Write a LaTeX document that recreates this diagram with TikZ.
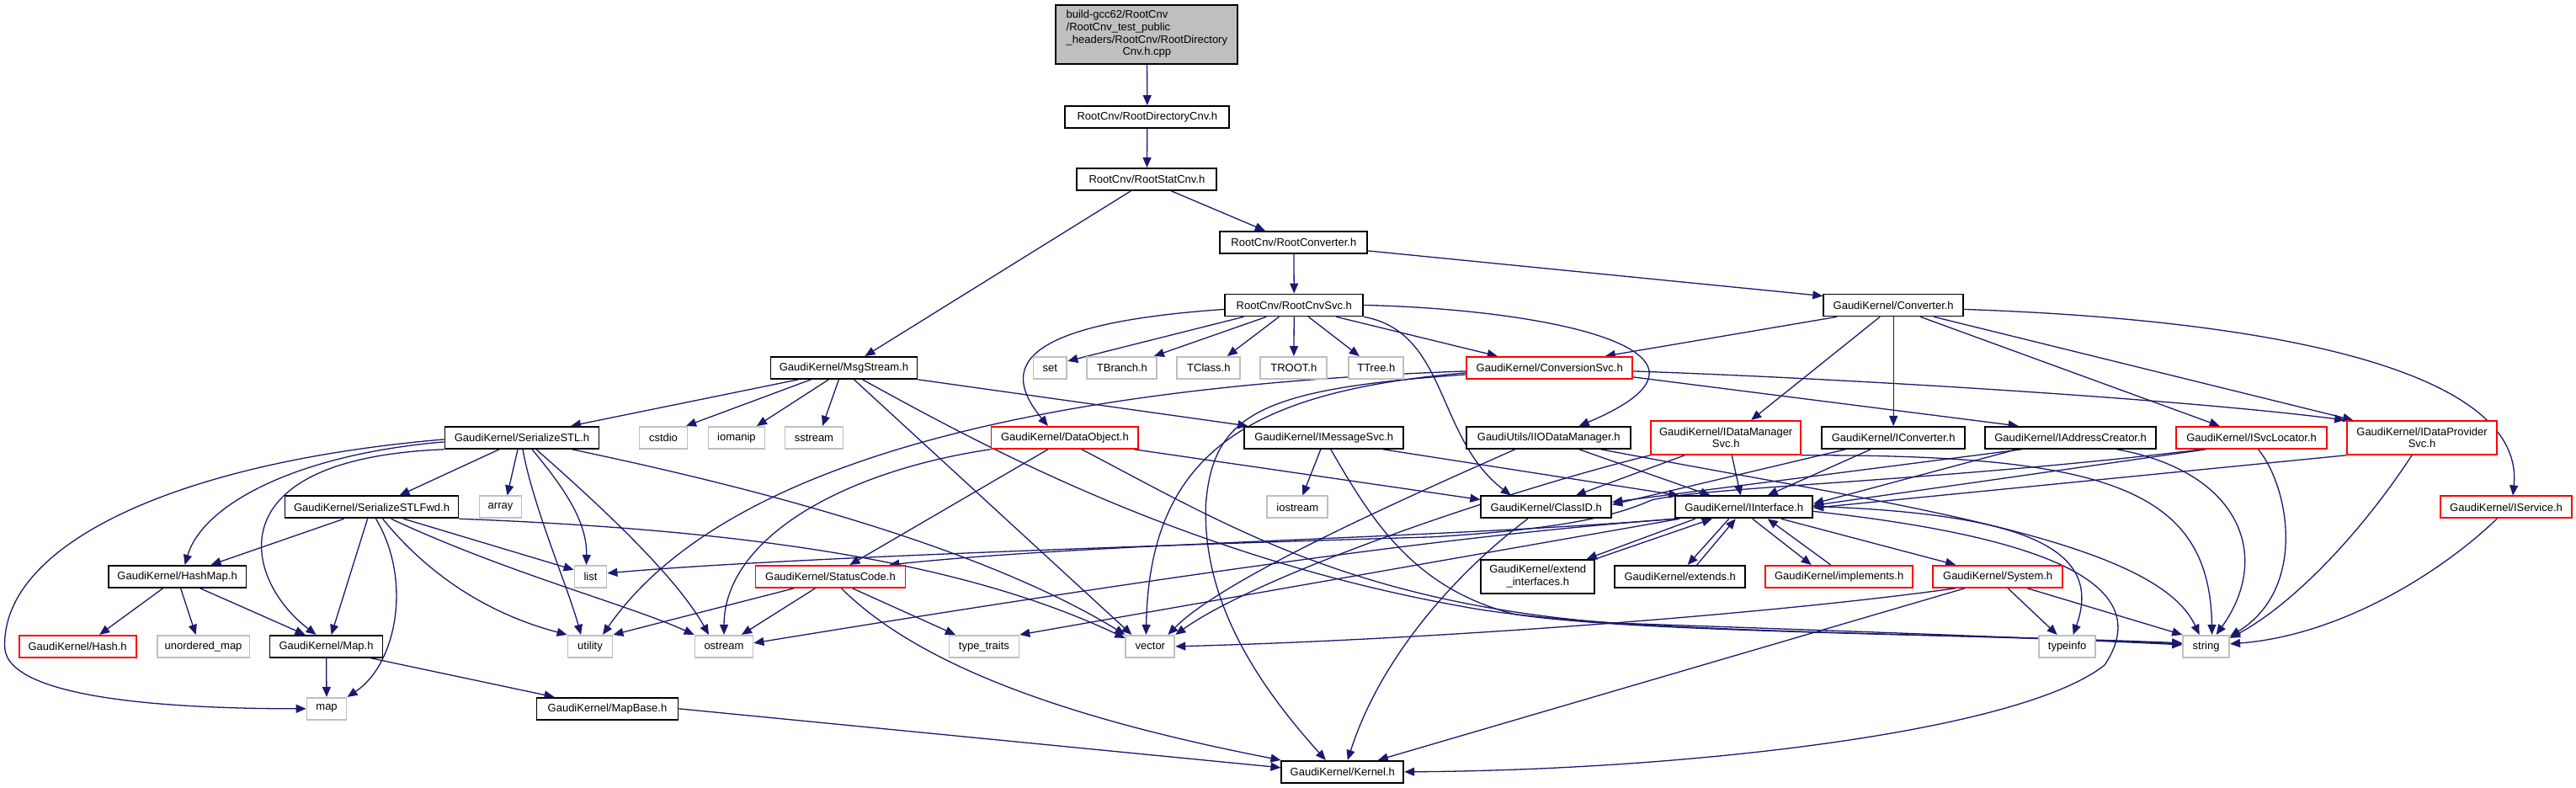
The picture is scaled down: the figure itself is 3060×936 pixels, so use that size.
\documentclass[tikz,border=0pt]{standalone}
\usepackage{fontspec}
\setmainfont{Liberation Sans}
\usetikzlibrary{arrows.meta}
\pgfdeclarelayer{bg}
\pgfdeclarelayer{edges}
\pgfsetlayers{bg,edges,main}
\definecolor{edgec}{HTML}{191970}
\definecolor{grayb}{HTML}{BFBFBF}
\definecolor{redb}{HTML}{FF0000}
\newcommand\gfont{\fontsize{13}{14.7}\selectfont}
\tikzset{
  box/.style={line width=1.8pt, inner sep=0pt, fill=white, font=\gfont, align=center, minimum height=26pt},
  gk/.style={box, draw=black},
  rd/.style={box, draw=redb},
  gr/.style={box, draw=grayb},
  edg/.style={draw=edgec, line width=1.3pt, -{Triangle[length=12pt,width=10pt]}},
}
\begin{document}
\begin{tikzpicture}[x=1pt,y=-1pt]
\begin{pgfonlayer}{bg}
\path[use as bounding box, fill=white] (0,0) rectangle (3060,936);
\end{pgfonlayer}
% nodes
\node[box, draw=black, fill=grayb, minimum width=216pt, minimum height=70pt] (top) at (1362,41)
  {\begin{tabular}{@{}l@{}}build-gcc62/RootCnv\\/RootCnv\_test\_public\\\_headers/RootCnv/RootDirectory\\\multicolumn{1}{@{}c@{}}{Cnv.h.cpp}\end{tabular}};
\node[gk, minimum width=195pt] (rdc) at (1362.5,139) {RootCnv/RootDirectoryCnv.h};
\node[gk, minimum width=166pt] (rsc) at (1362,213) {RootCnv/RootStatCnv.h};
\node[gk, minimum width=175pt] (rconv) at (1536.5,288) {RootCnv/RootConverter.h};
\node[gk, minimum width=164pt] (rcsvc) at (1537,362.5) {RootCnv/RootCnvSvc.h};
\node[gk, minimum width=166pt] (conv) at (2249,362.5) {GaudiKernel/Converter.h};
\node[gk, minimum width=174pt] (msg) at (1002,437) {GaudiKernel/MsgStream.h};
\node[gr, minimum width=40pt] (set) at (1247,437) {set};
\node[gr, minimum width=83pt] (tbranch) at (1332.5,437) {TBranch.h};
\node[gr, minimum width=75pt] (tclass) at (1435.5,437) {TClass.h};
\node[gr, minimum width=79pt] (troot) at (1536.5,437) {TROOT.h};
\node[gr, minimum width=65pt] (ttree) at (1634.5,437) {TTree.h};
\node[rd, minimum width=197pt] (csvc) at (1840.5,437) {GaudiKernel/ConversionSvc.h};
\node[gk, minimum width=183pt] (sstl) at (619.5,520) {GaudiKernel/SerializeSTL.h};
\node[gr, minimum width=57pt] (cstdio) at (787.5,520) {cstdio};
\node[gr, minimum width=67pt] (iomanip) at (874.5,520) {iomanip};
\node[gr, minimum width=69pt] (sstream) at (966.5,520) {sstream};
\node[rd, minimum width=175pt] (dobj) at (1264.5,520) {GaudiKernel/DataObject.h};
\node[gk, minimum width=189pt] (imsg) at (1572.5,520) {GaudiKernel/IMessageSvc.h};
\node[gk, minimum width=195pt] (iio) at (1839.5,520) {GaudiUtils/IIODataManager.h};
\node[rd, minimum width=178pt, minimum height=40pt] (idms) at (2050,520) {GaudiKernel/IDataManager\\Svc.h};
\node[gk, minimum width=170pt] (iconv) at (2249,520) {GaudiKernel/IConverter.h};
\node[gk, minimum width=203pt] (iaddr) at (2459.5,520) {GaudiKernel/IAddressCreator.h};
\node[rd, minimum width=179pt] (isvcl) at (2674.5,520) {GaudiKernel/ISvcLocator.h};
\node[rd, minimum width=178pt, minimum height=40pt] (idps) at (2877,520) {GaudiKernel/IDataProvider\\Svc.h};
\node[gk, minimum width=206pt] (fwd) at (441,602.5) {GaudiKernel/SerializeSTLFwd.h};
\node[gr, minimum width=50pt] (array) at (594,602.5) {array};
\node[gr, minimum width=72pt] (iostream) at (1541,602.5) {iostream};
\node[gk, minimum width=155pt] (classid) at (1836.5,602.5) {GaudiKernel/ClassID.h};
\node[gk, minimum width=163pt] (iint) at (2071.5,602.5) {GaudiKernel/IInterface.h};
\node[rd, minimum width=156pt] (iservice) at (2977,602.5) {GaudiKernel/IService.h};
\node[gk, minimum width=164pt] (hashmap) at (210,685) {GaudiKernel/HashMap.h};
\node[gr, minimum width=38pt] (list) at (701,685) {list};
\node[rd, minimum width=178pt] (status) at (986,685) {GaudiKernel/StatusCode.h};
\node[gk, minimum width=135pt, minimum height=40pt] (extif) at (1826.5,685) {GaudiKernel/extend\\\_interfaces.h};
\node[gk, minimum width=155pt] (extends) at (1995.5,685) {GaudiKernel/extends.h};
\node[rd, minimum width=175pt] (impl) at (2184.5,685) {GaudiKernel/implements.h};
\node[rd, minimum width=154pt] (system) at (2373,685) {GaudiKernel/System.h};
\node[rd, minimum width=139pt] (hash) at (91.5,768) {GaudiKernel/Hash.h};
\node[gr, minimum width=110pt] (umap) at (241,768) {unordered\_map};
\node[gk, minimum width=134pt] (maph) at (387,768) {GaudiKernel/Map.h};
\node[gr, minimum width=53pt] (utility) at (700.5,768) {utility};
\node[gr, minimum width=69pt] (ostream) at (859.5,768) {ostream};
\node[gr, minimum width=83pt] (ttraits) at (1168.5,768) {type\_traits};
\node[gr, minimum width=58pt] (vector) at (1366,768) {vector};
\node[gr, minimum width=67pt] (typeinfo) at (2455.5,768) {typeinfo};
\node[gr, minimum width=55pt] (string) at (2620.5,768) {string};
\node[gr, minimum width=47pt] (map) at (387.5,842) {map};
\node[gk, minimum width=168pt] (mapbase) at (721,842) {GaudiKernel/MapBase.h};
\node[gk, minimum width=145pt] (kernel) at (1594.5,917) {GaudiKernel/Kernel.h};
% edges
\begin{pgfonlayer}{edges}
\draw[edg] (top) -- (rdc);
\draw[edg] (rdc) -- (rsc);
\draw[edg] ([xshift=-19pt]rsc.south) -- ([xshift=25pt]msg.north);
\draw[edg] ([xshift=29pt]rsc.south) -- ([xshift=-34pt]rconv.north);
\draw[edg] (rconv) -- (rcsvc);
\draw[edg] ([yshift=-10pt]rconv.east) -- ([yshift=-3pt]conv.north west);
% RootCnvSvc
\draw[edg] ([xshift=-60pt]rcsvc.south) -- ([yshift=8pt]set.east);
\draw[edg] ([xshift=-33pt]rcsvc.south) -- ([xshift=38pt]tbranch.north);
\draw[edg] ([xshift=-18pt]rcsvc.south) -- ([xshift=22pt]tclass.north);
\draw[edg] (rcsvc) -- (troot);
\draw[edg] ([xshift=17pt]rcsvc.south) -- ([xshift=-20pt]ttree.north);
\draw[edg] ([xshift=50pt]rcsvc.south) -- ([xshift=-62pt]csvc.north);
\draw[edg] ([yshift=-5pt]rcsvc.west) .. controls (1200,385) and (1190,440) .. ([xshift=-20pt]dobj.north);
\draw[edg] (rcsvc.east) .. controls (1850,368) and (2080,420) .. ([xshift=36pt]iio.north);
\draw[edg] (rcsvc.south east) .. controls (1720,395) and (1705,520) .. ([xshift=-42pt]classid.north);
% Converter
\draw[edg] ([xshift=-67pt]conv.south) -- ([xshift=66pt]csvc.north);
\draw[edg] ([xshift=-16pt]conv.south) -- ([xshift=30pt]idms.north);
\draw[edg] (conv) -- (iconv);
\draw[edg] ([xshift=32pt]conv.south) -- ([xshift=-38pt]isvcl.north);
\draw[edg] ([xshift=48pt]conv.south) -- ([xshift=8pt]idps.north west);
\draw[edg] ([yshift=-5pt]conv.east) .. controls (2700,380) and (3000,440) .. ([xshift=8pt]iservice.north);
% ConversionSvc
\draw[edg] ([yshift=-11pt]csvc.east) -- ([xshift=-62pt]iaddr.north);
\draw[edg] ([yshift=-4pt]csvc.east) .. controls (2200,450) and (2600,475) .. ([xshift=-2pt]idps.north west);
\draw[edg] ([yshift=-4pt]csvc.west) .. controls (1200,460) and (850,560) .. ([xshift=15pt]utility.north);
\draw[edg] ([yshift=-6pt]csvc.west) .. controls (1480,465) and (1365,540) .. ([xshift=-5pt]vector.north);
\draw[edg] ([yshift=-8pt]csvc.west) .. controls (1500,462) and (1440,490) .. (1432,600) .. controls (1428,720) and (1500,820) .. ([xshift=-20pt]kernel.north);
% MsgStream
\draw[edg] ([xshift=-54pt]msg.south) -- ([xshift=58pt]sstl.north);
\draw[edg] ([xshift=-39pt]msg.south) -- ([xshift=27pt]cstdio.north);
\draw[edg] ([xshift=-18pt]msg.south) -- ([xshift=24pt]iomanip.north);
\draw[edg] ([xshift=-6pt]msg.south) -- ([xshift=10pt]sstream.north);
\draw[edg] (msg.south east) -- ([xshift=5pt]imsg.north west);
\draw[edg] ([xshift=12pt]msg.south) -- ([xshift=-22pt]vector.north);
\draw[edg] ([xshift=22pt]msg.south) .. controls (1150,520) and (1400,660) .. (1734,720) .. controls (1900,752) and (2300,752) .. ([yshift=4pt]string.west);
% DataObject
\draw[edg] ([xshift=-6pt]dobj.south east) -- ([yshift=-5pt]classid.north west);
\draw[edg] ([xshift=-20pt]dobj.south) -- ([xshift=23pt]status.north);
\draw[edg] (dobj.south west) .. controls (1000,560) and (860,640) .. (ostream.north);
\draw[edg] ([xshift=20pt]dobj.south) .. controls (1450,620) and (1600,715) .. (1912,740) .. controls (2200,750) and (2400,757) .. ([yshift=2pt]string.west);
% IMessageSvc
\draw[edg] ([xshift=-4pt]imsg.south) -- ([xshift=6pt]iostream.north);
\draw[edg] ([xshift=70pt]imsg.south) -- ([xshift=5pt]iint.north west);
\draw[edg] ([xshift=8pt]imsg.south) .. controls (1630,620) and (1680,700) .. (1800,730) .. controls (1950,752) and (2300,752) .. ([yshift=3pt]string.west);
% IIODataManager
\draw[edg] ([xshift=36pt]iio.south) -- ([xshift=-40pt]iint.north);
\draw[edg] ([xshift=-40pt]iio.south) .. controls (1650,600) and (1450,690) .. ([xshift=21pt]vector.north);
\draw[edg] ([xshift=62pt]iio.south) .. controls (2250,600) and (2560,640) .. ([xshift=-8pt]string.north);
% IDataManagerSvc
\draw[edg] ([xshift=-49pt]idms.south) -- ([xshift=35pt]classid.north);
\draw[edg] ([xshift=7pt]idms.south) -- ([xshift=-4pt]iint.north);
\draw[edg] (idms.south west) .. controls (1800,580) and (1500,680) .. (vector.north east);
\draw[edg] (idms.south east) .. controls (2500,540) and (2625,580) .. ([xshift=7pt]string.north);
% IConverter
\draw[edg] ([xshift=-57pt]iconv.south) -- ([yshift=3pt]classid.east);
\draw[edg] ([xshift=-27pt]iconv.south) -- ([xshift=28pt]iint.north);
% IAddressCreator
\draw[edg] ([xshift=-58pt]iaddr.south) -- ([yshift=6pt]classid.east);
\draw[edg] ([xshift=-64pt]iaddr.south) -- ([yshift=4pt]iint.east);
\draw[edg] ([xshift=55pt]iaddr.south) .. controls (2660,560) and (2700,660) .. ([xshift=12pt]string.north);
% ISvcLocator
\draw[edg] ([xshift=-54pt]isvcl.south) -- ([yshift=2pt]iint.east);
\draw[edg] ([xshift=-58pt]isvcl.south) .. controls (2300,572) and (2030,578) .. (1962,594) .. controls (1925,610) and (1870,628) .. (1700,638) .. controls (1300,650) and (900,665) .. ([yshift=4pt]list.east);
\draw[edg] ([xshift=8pt]isvcl.south) .. controls (2720,580) and (2740,700) .. ([yshift=-2pt]string.north east);
% IDataProviderSvc
\draw[edg] (idps.south west) -- ([yshift=-1pt]iint.east);
\draw[edg] ([xshift=-12pt]idps.south) .. controls (2800,640) and (2720,720) .. ([yshift=-4pt]string.north east);
% IService
\draw[edg] ([xshift=-11pt]iservice.south) .. controls (2900,680) and (2780,755) .. ([yshift=3pt]string.east);
% SerializeSTL
\draw[edg] ([xshift=-27pt]sstl.south) -- ([xshift=33pt]fwd.north);
\draw[edg] ([xshift=-5pt]sstl.south) -- ([xshift=8pt]array.north);
\draw[edg] ([xshift=12pt]sstl.south) .. controls (670,580) and (697,620) .. ([xshift=-5pt]list.north);
\draw[edg] ([xshift=1pt]sstl.south) .. controls (632,600) and (675,700) .. ([xshift=-11pt]utility.north);
\draw[edg] ([xshift=17pt]sstl.south) .. controls (700,590) and (800,680) .. ([xshift=-18pt]ostream.north);
\draw[edg] ([xshift=-33pt]sstl.south east) .. controls (850,570) and (1150,640) .. (vector.north west);
\draw[edg] ([yshift=-2pt]sstl.west) .. controls (200,550) and (0,650) .. (5,770) .. controls (10,830) and (200,842) .. (map.west);
\draw[edg] ([yshift=-5pt]sstl.west) .. controls (350,540) and (240,600) .. ([xshift=9pt]hashmap.north);
\draw[edg] (sstl.south west) .. controls (250,545) and (290,690) .. ([xshift=-12pt]maph.north);
% SerializeSTLFwd
\draw[edg] ([xshift=-33pt]fwd.south) -- ([xshift=40pt]hashmap.north);
\draw[edg] ([xshift=-5pt]fwd.south) -- ([xshift=6pt]maph.north);
\draw[edg] ([xshift=5pt]fwd.south) .. controls (490,690) and (470,790) .. (map.north east);
\draw[edg] ([xshift=13pt]fwd.south) .. controls (530,710) and (620,740) .. (utility.north west);
\draw[edg] ([xshift=38pt]fwd.south) -- ([yshift=8pt]list.west);
\draw[edg] ([xshift=23pt]fwd.south) .. controls (600,680) and (750,720) .. (ostream.north west);
\draw[edg] (fwd.south east) .. controls (900,630) and (1150,670) .. ([yshift=-4pt]vector.north west);
% HashMap / Map
\draw[edg] ([xshift=-17pt]hashmap.south) -- ([xshift=26pt]hash.north);
\draw[edg] ([xshift=4pt]hashmap.south) -- ([xshift=-9pt]umap.north);
\draw[edg] ([xshift=27pt]hashmap.south) -- ([xshift=-25pt]maph.north);
\draw[edg] (maph) -- (map);
\draw[edg] ([xshift=-15pt]maph.south east) -- ([xshift=-63pt]mapbase.north);
\draw[edg] (mapbase.east) -- ([yshift=5pt]kernel.west);
% StatusCode
\draw[edg] ([xshift=-43pt]status.south) -- (utility.north east);
\draw[edg] ([xshift=-18pt]status.south) -- ([xshift=21pt]ostream.north);
\draw[edg] ([xshift=26pt]status.south) -- ([xshift=-34pt]ttraits.north);
\draw[edg] ([xshift=13pt]status.south) .. controls (1100,800) and (1300,860) .. (kernel.north west);
% ClassID
\draw[edg] ([xshift=-22pt]classid.south) .. controls (1730,680) and (1640,780) .. ([xshift=6pt]kernel.north);
% IInterface
\draw[edg] ([xshift=-58pt]iint.south) -- ([xshift=58pt]extif.north);
\draw[edg] (extif.north east) -- ([xshift=-38pt]iint.south);
\draw[edg] ([xshift=-18pt]iint.south) -- ([xshift=9pt]extends.north);
\draw[edg] ([xshift=20pt]extends.north) -- ([xshift=-10pt]iint.south);
\draw[edg] ([xshift=10pt]iint.south) -- ([xshift=-33pt]impl.north);
\draw[edg] ([xshift=-10pt]impl.north) -- ([xshift=28pt]iint.south);
\draw[edg] ([xshift=44pt]iint.south) -- ([xshift=-50pt]system.north);
\draw[edg] (iint.south west) .. controls (1700,640) and (1300,645) .. ([xshift=-20pt]status.north east);
\draw[edg] ([xshift=3pt]iint.south west) .. controls (1800,630) and (1500,665) .. ([yshift=4pt]ostream.east);
\draw[edg] ([xshift=6pt]iint.south west) -- (ttraits.north east);
\draw[edg] ([yshift=1pt]iint.east) .. controls (2400,610) and (2500,650) .. ([xshift=7pt]typeinfo.north);
\draw[edg] ([yshift=-5pt]iint.east) .. controls (2450,640) and (2560,700) .. (2500,790) .. controls (2400,870) and (2000,915) .. (kernel.east);
% System
\draw[edg] ([xshift=-39pt]system.south) -- ([xshift=42pt]kernel.north);
\draw[edg] ([xshift=-50pt]system.south) .. controls (2100,730) and (1700,760) .. (vector.east);
\draw[edg] ([xshift=12pt]system.south) -- ([xshift=-12pt]typeinfo.north);
\draw[edg] ([xshift=35pt]system.south) -- (string.north west);
\end{pgfonlayer}
\end{tikzpicture}
\end{document}
